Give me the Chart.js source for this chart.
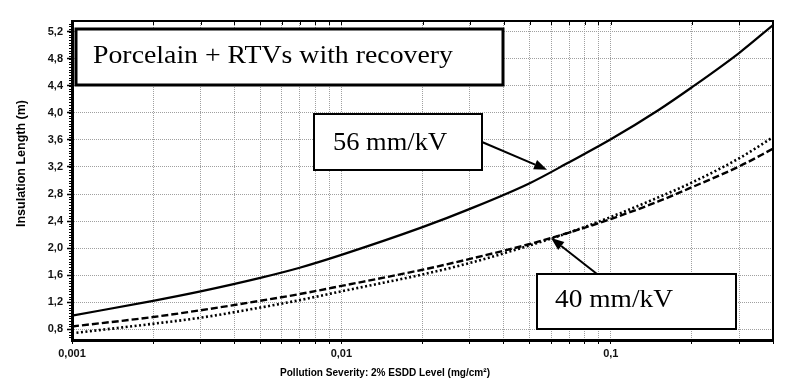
<!DOCTYPE html>
<html>
<head>
<meta charset="utf-8">
<script src="https://cdn.jsdelivr.net/npm/chart.js@4.4.1/dist/chart.umd.min.js"></script>
<style>
  html, body { margin: 0; padding: 0; background: #fff; }
</style>
</head>
<body>
<canvas id="chart" width="800" height="385"></canvas>
<script>
// Pollution severity, ESDD (mg/cm2)
const esdd = [0.001, 0.002, 0.003, 0.005, 0.007, 0.01, 0.02, 0.03, 0.05, 0.07, 0.1, 0.15, 0.2, 0.3, 0.4];
// insulation length (m)
const len56 = [1.00, 1.22, 1.36, 1.56, 1.71, 1.90, 2.31, 2.58, 2.96, 3.27, 3.61, 4.04, 4.38, 4.89, 5.30];
const len40dash = [0.84, 0.98, 1.08, 1.22, 1.32, 1.44, 1.68, 1.84, 2.06, 2.23, 2.43, 2.69, 2.90, 3.21, 3.47];
const len40dot = [0.74, 0.88, 0.97, 1.12, 1.23, 1.36, 1.61, 1.78, 2.04, 2.23, 2.46, 2.75, 2.97, 3.33, 3.64];

// ticks
const xTicks = [0.001, 0.002, 0.003, 0.004, 0.005, 0.006, 0.007, 0.008, 0.009,
	0.01, 0.02, 0.03, 0.04, 0.05, 0.06, 0.07, 0.08, 0.09, 0.1, 0.2, 0.3, 0.4];
const xLabelValues = [0.001, 0.01, 0.1];
const xLabels = ['0,001', '0,01', '0,1'];
const yTicks = [0.8, 1.2, 1.6, 2.0, 2.4, 2.8, 3.2, 3.6, 4.0, 4.4, 4.8, 5.2];

const xTitle = 'Pollution Severity: 2% ESDD Level (mg/cm\u00b2)';
const yTitle = 'Insulation Length (m)';

const tickFont = { family: 'Liberation Sans', size: 11, weight: 'bold' };
const gridColor = '#a0a0a0';

function pts(ys) {
	return esdd.map((x, i) => ({ x: x, y: ys[i] }));
}

// draw text, squeezed to a given width
function fitText(ctx, text, x, y, font, width) {
	ctx.font = font;
	const w = ctx.measureText(text).width;
	ctx.save();
	ctx.translate(x, y);
	if (width) ctx.scale(width / w, 1);
	ctx.fillText(text, 0, 0);
	ctx.restore();
}

function arrow(ctx, x1, y1, x2, y2) {
	const a = Math.atan2(y2 - y1, x2 - x1);
	const len = 13, half = 5;
	ctx.beginPath();
	ctx.moveTo(x1, y1);
	ctx.lineTo(x2 - Math.cos(a) * len, y2 - Math.sin(a) * len);
	ctx.lineWidth = 2;
	ctx.stroke();
	ctx.beginPath();
	ctx.moveTo(x2, y2);
	ctx.lineTo(x2 - Math.cos(a) * len - Math.sin(a) * half, y2 - Math.sin(a) * len + Math.cos(a) * half);
	ctx.lineTo(x2 - Math.cos(a) * len + Math.sin(a) * half, y2 - Math.sin(a) * len - Math.cos(a) * half);
	ctx.closePath();
	ctx.fill();
}

// text boxes, with arrows pointing at the curves (tip in data units)
const notes = [
	{ text: 'Porcelain + RTVs with recovery', box: [76, 29, 503, 85], lw: 3, tx: 93, ty: 63, tw: 360 },
	{ text: '56 mm/kV', box: [314, 114, 482, 170], lw: 2, tx: 333, ty: 150, tw: 114, from: [482, 142], tip: [0.058, 3.16] },
	{ text: '40 mm/kV', box: [537, 274, 736, 329], lw: 2, tx: 555, ty: 307, tw: 118, from: [597, 274], tip: [0.06, 2.15] },
];

const decor = {
	id: 'decor',
	afterDraw(chart) {
		const ctx = chart.ctx;
		const area = chart.chartArea;
		const xs = chart.scales.x, ys = chart.scales.y;
		ctx.save();
		ctx.strokeStyle = '#000';
		ctx.fillStyle = '#000';

		// top and right frame
		ctx.lineWidth = 2;
		ctx.beginPath();
		ctx.moveTo(area.left, area.top);
		ctx.lineTo(area.right, area.top);
		ctx.lineTo(area.right, area.bottom);
		ctx.stroke();

		// small ticks on the top frame
		ctx.lineWidth = 1;
		xTicks.forEach(v => {
			const px = Math.round(xs.getPixelForValue(v)) + 0.5;
			ctx.beginPath();
			ctx.moveTo(px, area.top);
			ctx.lineTo(px, area.top + 4);
			ctx.stroke();
		});

		// minor ruler ticks on the y axis
		for (let k = 17; k <= 133; k++) {
			const py = Math.round(ys.getPixelForValue(k * 0.04)) + 0.5;
			ctx.beginPath();
			ctx.moveTo(area.left - 3, py);
			ctx.lineTo(area.left, py);
			ctx.stroke();
		}

		// axis titles
		ctx.textBaseline = 'alphabetic';
		ctx.textAlign = 'left';
		fitText(ctx, xTitle, 280, 376, 'bold 11px "Liberation Sans"', 210);
		ctx.save();
		ctx.translate(25, 227);
		ctx.rotate(-Math.PI / 2);
		fitText(ctx, yTitle, 0, 0, 'bold 12px "Liberation Sans"', 127);
		ctx.restore();

		// notes
		notes.forEach(n => {
			const [x1, y1, x2, y2] = n.box;
			ctx.fillStyle = '#fff';
			ctx.fillRect(x1, y1, x2 - x1, y2 - y1);
			ctx.lineWidth = n.lw;
			ctx.strokeRect(x1, y1, x2 - x1, y2 - y1);
			ctx.fillStyle = '#000';
			fitText(ctx, n.text, n.tx, n.ty, '26px "Liberation Serif"', n.tw);
			if (n.tip) {
				arrow(ctx, n.from[0], n.from[1], xs.getPixelForValue(n.tip[0]), ys.getPixelForValue(n.tip[1]));
			}
		});
		ctx.restore();
	}
};

new Chart(document.getElementById('chart'), {
	type: 'line',
	data: {
		datasets: [
			{ label: '56 mm/kV', data: pts(len56), borderColor: '#000', borderWidth: 2.2 },
			{ label: '40 mm/kV', data: pts(len40dash), borderColor: '#000', borderWidth: 2.4, borderDash: [7, 3] },
			{ label: '40 mm/kV', data: pts(len40dot), borderColor: '#000', borderWidth: 2.6, borderDash: [2, 2.5] },
		],
	},
	plugins: [decor],
	options: {
		responsive: false,
		animation: false,
		devicePixelRatio: 1,
		layout: { padding: { top: 21, right: 27, left: 0, bottom: 0 } },
		elements: {
			point: { radius: 0 },
			line: { cubicInterpolationMode: 'monotone', fill: false },
		},
		plugins: {
			legend: { display: false },
			tooltip: { enabled: false },
		},
		scales: {
			x: {
				type: 'logarithmic',
				min: 0.001,
				max: 0.4,
				afterBuildTicks: s => { s.ticks = xTicks.map(v => ({ value: v })); },
				afterFit: s => { s.height = 45; },
				ticks: {
					autoSkip: false,
					maxRotation: 0,
					padding: 3,
					color: '#111',
					font: tickFont,
					callback: v => {
						const i = xLabelValues.findIndex(d => Math.abs(d - v) < 1e-9);
						return i >= 0 ? xLabels[i] : '';
					},
				},
				grid: { color: gridColor, lineWidth: 1, tickColor: '#000', tickLength: 4, tickWidth: 1 },
				border: { display: true, color: '#000', width: 3, dash: [1, 1] },
			},
			y: {
				type: 'linear',
				min: 0.64,
				max: 5.36,
				afterBuildTicks: s => { s.ticks = yTicks.map(v => ({ value: v })); },
				afterFit: s => { s.width = 72; },
				ticks: {
					padding: 4,
					color: '#111',
					font: tickFont,
					callback: v => v.toFixed(1).replace('.', ','),
				},
				grid: { color: gridColor, lineWidth: 1, tickColor: '#000', tickLength: 5, tickWidth: 1.5 },
				border: { display: true, color: '#000', width: 3, dash: [1, 1] },
			},
		},
	},
});
</script>
</body>
</html>
